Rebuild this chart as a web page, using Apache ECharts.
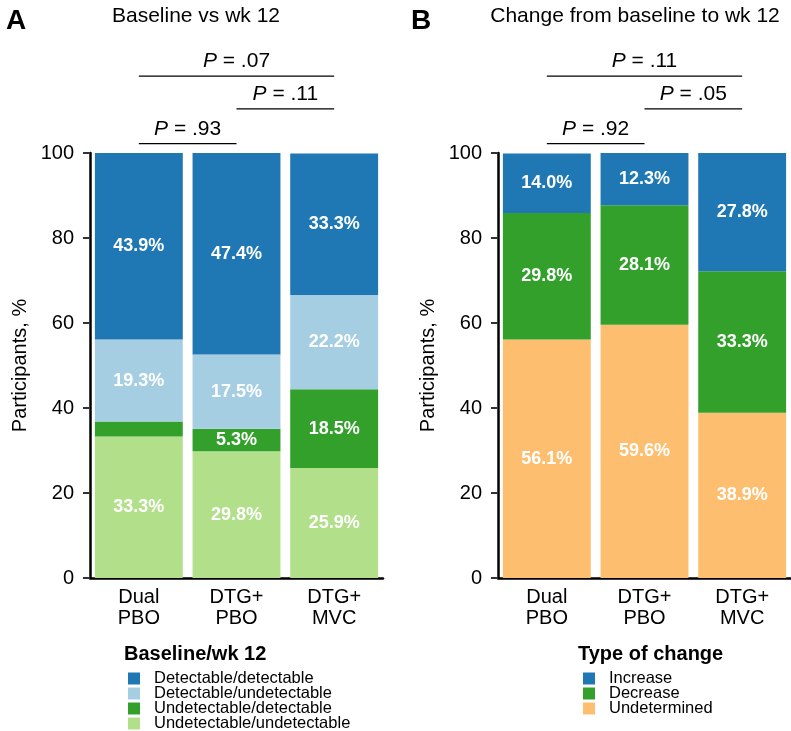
<!DOCTYPE html>
<html>
<head>
<meta charset="utf-8">
<script src="https://cdn.jsdelivr.net/npm/echarts@6/dist/echarts.min.js"></script>
<style>
html,body{margin:0;padding:0;background:#fff;}
#c{width:791px;height:731px;}
</style>
</head>
<body>
<div id="c"></div>
<script>
// ---- data ----
var categories = ['Dual\nPBO', 'DTG+\nPBO', 'DTG+\nMVC'];
var yTicks = [0, 20, 40, 60, 80, 100];

// Panel A (stack order bottom -> top)
var aUndetUndet = [33.3, 29.8, 25.9];
var aUndetDet   = [3.5, 5.3, 18.5];
var aDetUndet   = [19.3, 17.5, 22.2];
var aDetDet     = [43.9, 47.4, 33.3];
var aNames = ['Undetectable/undetectable', 'Undetectable/detectable', 'Detectable/undetectable', 'Detectable/detectable'];

// Panel B (stack order bottom -> top)
var bUndetermined = [56.1, 59.6, 38.9];
var bDecrease     = [29.8, 28.1, 33.3];
var bIncrease     = [14.0, 12.3, 27.8];
var bNames = ['Undetermined', 'Decrease', 'Increase'];

// P-value brackets: [fromIndex, toIndex, yValue, label]
var aBrackets = [[0, 2, 118.1, '.07'], [1, 2, 110.4, '.11'], [0, 1, 102.2, '.93']];
var bBrackets = [[0, 2, 118.1, '.11'], [1, 2, 110.4, '.05'], [0, 1, 102.2, '.92']];

var titleA = 'Baseline vs wk 12';
var titleB = 'Change from baseline to wk 12';
var legendTitleA = 'Baseline/wk 12';
var legendTitleB = 'Type of change';
var yName = 'Participants, %';

// ---- styling ----
var FONT = '"Liberation Sans", Arial, Helvetica, sans-serif';
var colA = ['#B2DF8A', '#33A02C', '#A6CEE3', '#1F78B4'];
var colB = ['#FDBF6F', '#33A02C', '#1F78B4'];

var chart = echarts.init(document.getElementById('c'), null, {renderer: 'canvas'});

function xAxisCfg(gi) {
  return {
    type: 'category', gridIndex: gi, data: categories,
    axisLine: {lineStyle: {color: '#000', width: 2.5}},
    axisTick: {alignWithLabel: true, length: 7, lineStyle: {color: '#333', width: 2}},
    axisLabel: {color: '#000', fontSize: 20, fontFamily: FONT, lineHeight: 21, margin: 9}
  };
}
function yAxisCfg(gi) {
  return {
    type: 'value', gridIndex: gi, min: 0, max: 100, interval: 20,
    name: yName, nameLocation: 'middle', nameGap: 60, nameRotate: 90,
    nameTextStyle: {color: '#000', fontSize: 20, fontFamily: FONT},
    axisLine: {show: true, lineStyle: {color: '#000', width: 2.5}},
    axisTick: {show: true, length: 7, lineStyle: {color: '#333', width: 2}},
    splitLine: {show: false},
    axisLabel: {color: '#000', fontSize: 20, fontFamily: FONT, margin: 16,
      formatter: function (v) { return yTicks.indexOf(v) >= 0 ? String(v) : ''; }}
  };
}
function barSeries(name, data, color, gi, stack) {
  return {
    type: 'bar', name: name, data: data, stack: stack,
    xAxisIndex: gi, yAxisIndex: gi,
    barCategoryGap: '10%',
    itemStyle: {color: color},
    label: {
      show: true, position: 'inside', color: '#fff', fontWeight: 'bold',
      fontSize: 18, fontFamily: FONT,
      formatter: function (p) { return p.value < 4 ? '' : p.value.toFixed(1) + '%'; }
    },
    emphasis: {disabled: true}
  };
}

var series = [];
var aData = [aUndetUndet, aUndetDet, aDetUndet, aDetDet];
for (var i = 0; i < 4; i++) series.push(barSeries(aNames[i], aData[i], colA[i], 0, 'a'));
var bData = [bUndetermined, bDecrease, bIncrease];
for (var j = 0; j < 3; j++) series.push(barSeries(bNames[j], bData[j], colB[j], 1, 'b'));

var legendBase = {
  orient: 'vertical', itemWidth: 12, itemHeight: 12, itemGap: -2, padding: 0,
  icon: 'rect', selectedMode: false, height: 120, width: 300,
  textStyle: {color: '#000', fontSize: 16.5, fontFamily: FONT, padding: [0, 0, 0, 9]}
};

chart.setOption({
  animation: false,
  backgroundColor: '#fff',
  title: [
    {text: 'A', left: 1, top: 2, textStyle: {fontSize: 28, fontWeight: 'bold', color: '#000', fontFamily: FONT}},
    {text: 'B', left: 406, top: 2, textStyle: {fontSize: 28, fontWeight: 'bold', color: '#000', fontFamily: FONT}},
    {text: titleA, left: 196, textAlign: 'center', top: 6, padding: 0, textStyle: {fontSize: 21, fontWeight: 'normal', color: '#000', fontFamily: FONT}},
    {text: titleB, left: 635, textAlign: 'center', top: 6, padding: 0, textStyle: {fontSize: 21, fontWeight: 'normal', color: '#000', fontFamily: FONT}},
    {text: legendTitleA, left: 124, top: 644, padding: 0, textStyle: {fontSize: 20, fontWeight: 'bold', color: '#000', fontFamily: FONT}},
    {text: legendTitleB, left: 578, top: 644, padding: 0, textStyle: {fontSize: 20, fontWeight: 'bold', color: '#000', fontFamily: FONT}}
  ],
  grid: [
    {left: 90, top: 153, width: 293, height: 425},
    {left: 498, top: 153, width: 293, height: 425}
  ],
  xAxis: [xAxisCfg(0), xAxisCfg(1)],
  yAxis: [yAxisCfg(0), yAxisCfg(1)],
  legend: [
    Object.assign({}, legendBase, {left: 128, top: 670, data: aNames.slice().reverse()}),
    Object.assign({}, legendBase, {left: 583, top: 670, data: bNames.slice().reverse()})
  ],
  series: series
});

// brackets drawn from axis coordinates
function bracketGraphics(brackets, gi) {
  var out = [];
  brackets.forEach(function (b) {
    var p1 = chart.convertToPixel({gridIndex: gi}, [b[0], b[2]]);
    var p2 = chart.convertToPixel({gridIndex: gi}, [b[1], b[2]]);
    out.push({type: 'line', shape: {x1: p1[0], y1: p1[1], x2: p2[0], y2: p2[1]},
      style: {stroke: '#000', lineWidth: 1.3}, silent: true});
    out.push({type: 'text', x: (p1[0] + p2[0]) / 2, y: p1[1] - 4, silent: true,
      style: {
        text: '{i|P} = ' + b[3], textAlign: 'center', textVerticalAlign: 'bottom',
        fontSize: 21, fontFamily: FONT, fill: '#000',
        rich: {i: {fontStyle: 'italic', fontSize: 21, fontFamily: FONT, fill: '#000'}}
      }});
  });
  return out;
}
chart.setOption({graphic: bracketGraphics(aBrackets, 0).concat(bracketGraphics(bBrackets, 1))});
</script>
</body>
</html>
